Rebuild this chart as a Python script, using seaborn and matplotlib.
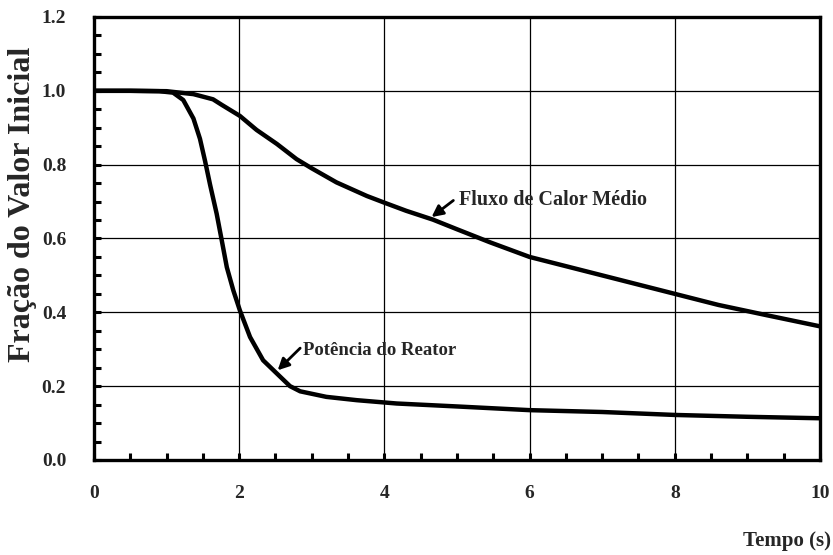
import matplotlib
matplotlib.use("Agg")
import matplotlib.pyplot as plt
import seaborn as sns
import pandas as pd
from matplotlib.ticker import MultipleLocator

# Reactor power (fraction of initial value) vs time
t_potencia = [0.0, 0.5, 0.9, 1.09, 1.23, 1.37, 1.46, 1.53, 1.60, 1.69, 1.76, 1.83, 1.92,
              2.01, 2.15, 2.33, 2.52, 2.70, 2.84, 3.2, 3.62, 4.17, 5.0, 6.0, 7.0, 8.0,
              9.0, 10.0]
potencia = [1.0, 1.0, 0.999, 0.995, 0.975, 0.925, 0.87, 0.81, 0.745, 0.667, 0.595, 0.522,
            0.459, 0.405, 0.333, 0.270, 0.234, 0.200, 0.186, 0.171, 0.162, 0.153, 0.145,
            0.135, 0.13, 0.122, 0.117, 0.113]

# Average heat flux (fraction of initial value) vs time
t_fluxo = [0.0, 0.5, 1.0, 1.37, 1.64, 1.76, 2.01, 2.24, 2.52, 2.79, 3.0, 3.34, 3.76,
           4.0, 4.3, 4.67, 5.0, 5.45, 6.0, 6.5, 7.2, 8.0, 8.6, 9.27, 10.0]
fluxo = [1.0, 1.0, 0.999, 0.991, 0.977, 0.962, 0.932, 0.894, 0.856, 0.815, 0.79, 0.752,
         0.715, 0.697, 0.675, 0.651, 0.625, 0.59, 0.55, 0.525, 0.49, 0.45, 0.42, 0.392,
         0.362]

x_ticks = [0, 2, 4, 6, 8, 10]
y_ticks = [0.0, 0.2, 0.4, 0.6, 0.8, 1.0, 1.2]

sns.set_theme(style="ticks")
plt.rcParams["font.family"] = ["Liberation Serif", "DejaVu Serif"]
plt.rcParams["font.weight"] = "bold"

df_p = pd.DataFrame({"t": t_potencia, "v": potencia})
df_f = pd.DataFrame({"t": t_fluxo, "v": fluxo})

fig = plt.figure(figsize=(8.33, 5.55), dpi=100)
ax = fig.add_axes([0.1128, 0.1712, 0.8716, 0.7982])

sns.lineplot(data=df_p, x="t", y="v", ax=ax, color="black", lw=3.2, estimator=None)
sns.lineplot(data=df_f, x="t", y="v", ax=ax, color="black", lw=3.2, estimator=None)

ax.set_xlim(0, 10)
ax.set_ylim(0, 1.2)
ax.set_xticks(x_ticks)
ax.set_yticks(y_ticks)
ax.set_xticklabels([f"{v:d}" for v in x_ticks], fontsize=14, fontweight="bold")
ax.set_yticklabels([f"{v:.1f}" for v in y_ticks], fontsize=14, fontweight="bold")
ax.xaxis.set_minor_locator(MultipleLocator(0.5))
ax.yaxis.set_minor_locator(MultipleLocator(0.05))
ax.tick_params(axis="both", which="both", direction="in", length=5, width=2.2,
               color="black", top=False, right=False)
ax.tick_params(axis="x", which="major", pad=18)
ax.tick_params(axis="y", which="major", pad=20)

ax.grid(True, which="major", color="black", lw=0.9)
for s in ax.spines.values():
    s.set_linewidth(2.4)
    s.set_color("black")
    s.set_visible(True)

ax.set_xlabel("")
ax.set_ylabel("Fração do Valor Inicial", fontsize=23, fontweight="bold")
ax.yaxis.set_label_coords(-0.078, 0.578)
fig.text(0.997, 0.008, "Tempo (s)", ha="right", va="bottom", fontsize=15, fontweight="bold")

arrow_kw = dict(arrowstyle="-|>", color="black", lw=2.0, mutation_scale=17,
                shrinkA=0, shrinkB=0)

ax.annotate("", xy=(4.65, 0.658), xytext=(4.95, 0.703), arrowprops=arrow_kw)
ax.text(5.03, 0.703, "Fluxo de Calor Médio", fontsize=14.5, fontweight="bold",
        va="center", ha="left")

ax.annotate("", xy=(2.53, 0.243), xytext=(2.84, 0.303), arrowprops=arrow_kw)
ax.text(2.88, 0.297, "Potência do Reator", fontsize=13.5, fontweight="bold",
        va="center", ha="left")

fig.savefig("out.png", dpi=100)
